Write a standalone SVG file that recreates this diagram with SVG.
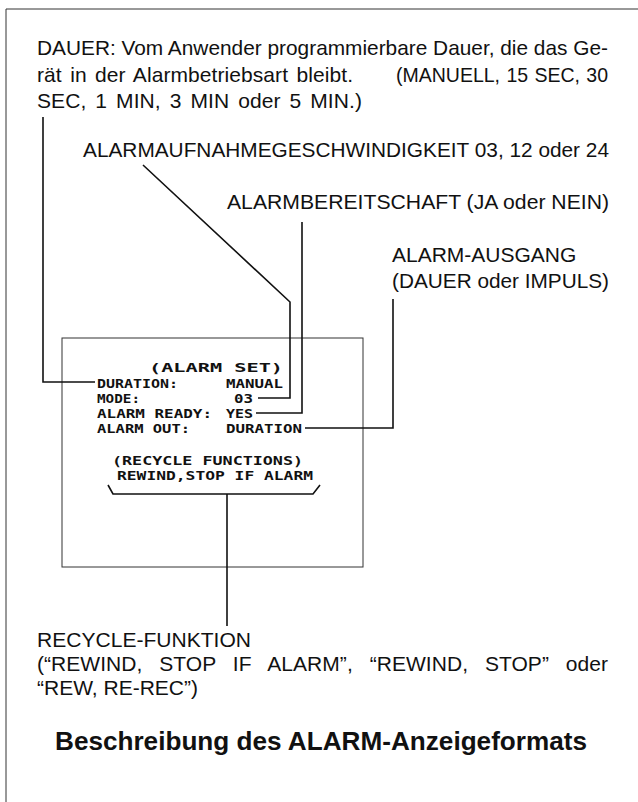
<svg xmlns="http://www.w3.org/2000/svg" width="638" height="802" viewBox="0 0 638 802">
<style>
.t{font-family:"Liberation Sans",Arial,sans-serif;font-size:21px;fill:#111}
.h{font-family:"Liberation Sans",Arial,sans-serif;font-size:26px;font-weight:bold;fill:#111}
.l{font-family:"DejaVu Sans Mono","Liberation Mono",monospace;font-size:12.8px;font-weight:bold;fill:#111}
.c{fill:none;stroke:#111;stroke-width:1.6}
.b{fill:none;stroke:#333;stroke-width:1}
</style>
<rect width="638" height="802" fill="#fff"/>
<path class="b" d="M6,802 V9 H638" stroke-width="1.4"/>

<g id="dauer-label">
<text class="t" x="37" y="55" textLength="571" lengthAdjust="spacingAndGlyphs">DAUER:  Vom Anwender programmierbare Dauer, die das Ge-</text>
<text class="t" y="82"><tspan x="37" word-spacing="2.5" textLength="316" lengthAdjust="spacing">rät in der Alarmbetriebsart bleibt.</tspan><tspan x="396" word-spacing="1" textLength="212" lengthAdjust="spacingAndGlyphs">(MANUELL, 15 SEC, 30</tspan></text>
<text class="t" x="37" y="108" word-spacing="3" textLength="325" lengthAdjust="spacing">SEC, 1 MIN, 3 MIN oder 5 MIN.)</text>
</g>
<g id="mode-label">
<text class="t" x="83" y="157" textLength="526" lengthAdjust="spacingAndGlyphs">ALARMAUFNAHMEGESCHWINDIGKEIT 03, 12 oder 24</text>
</g>
<g id="ready-label">
<text class="t" x="227" y="209" textLength="382" lengthAdjust="spacingAndGlyphs">ALARMBEREITSCHAFT (JA oder NEIN)</text>
</g>
<g id="out-label">
<text class="t" x="392" y="262">ALARM-AUSGANG</text>
<text class="t" x="392" y="288" textLength="217" lengthAdjust="spacingAndGlyphs">(DAUER oder IMPULS)</text>
</g>

<g id="screen">
<rect class="b" x="62" y="338" width="301" height="229"/>
<text class="l" x="149" y="372" textLength="134" lengthAdjust="spacingAndGlyphs">(ALARM SET)</text>
<text class="l" x="97" y="388" textLength="81" lengthAdjust="spacingAndGlyphs">DURATION:</text>
<text class="l" x="226" y="388" textLength="57" lengthAdjust="spacingAndGlyphs">MANUAL</text>
<text class="l" x="97" y="403" textLength="43" lengthAdjust="spacingAndGlyphs">MODE:</text>
<text class="l" x="234" y="403" textLength="19" lengthAdjust="spacingAndGlyphs">03</text>
<text class="l" x="97" y="418" textLength="115" lengthAdjust="spacingAndGlyphs">ALARM READY:</text>
<text class="l" x="226" y="418" textLength="27" lengthAdjust="spacingAndGlyphs">YES</text>
<text class="l" x="97" y="433" textLength="93" lengthAdjust="spacingAndGlyphs">ALARM OUT:</text>
<text class="l" x="226" y="433" textLength="76" lengthAdjust="spacingAndGlyphs">DURATION</text>
<text class="l" x="112" y="465" textLength="191" lengthAdjust="spacingAndGlyphs">(RECYCLE FUNCTIONS)</text>
<text class="l" x="117" y="480" textLength="196" lengthAdjust="spacingAndGlyphs">REWIND,STOP IF ALARM</text>
<path class="c" d="M108,485 L113,494 H313 L320,485"/>
</g>

<g id="recycle-label">
<text class="t" x="37" y="647" textLength="214" lengthAdjust="spacingAndGlyphs">RECYCLE-FUNKTION</text>
<text class="t" x="37" y="671" word-spacing="11" textLength="571" lengthAdjust="spacing">(“REWIND, STOP IF ALARM”, “REWIND, STOP” oder</text>
<text class="t" x="37" y="695">“REW, RE-REC”)</text>
</g>

<g id="title">
<text class="h" x="321" y="750" text-anchor="middle" textLength="532" lengthAdjust="spacingAndGlyphs">Beschreibung des ALARM-Anzeigeformats</text>
</g>

<g id="connectors">
<polyline class="c" points="43,117 43,382 95,382"/>
<polyline class="c" points="143,165 290,302 290,398 258,398"/>
<polyline class="c" points="302,222 302,413 256,413"/>
<polyline class="c" points="393,299 393,428 305,428"/>
<line class="c" x1="227" y1="494" x2="227" y2="626"/>
</g>
</svg>
